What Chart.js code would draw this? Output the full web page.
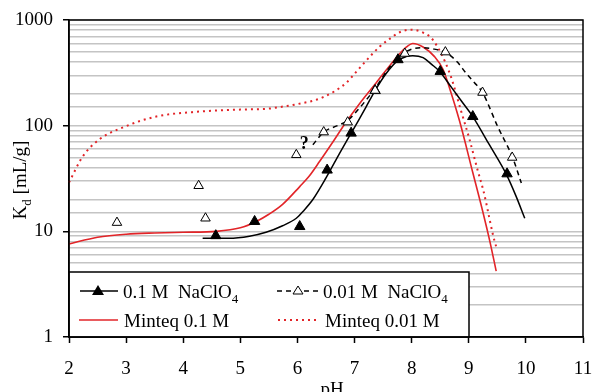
<!DOCTYPE html>
<html lang="en">
  <head>
    <meta charset="UTF-8" />
    <title>Kd vs pH</title>
    <script src="https://cdn.jsdelivr.net/npm/chart.js"></script>
    <style>
      body { margin: 0; background: #fff; }
      #wrap { width: 592px; height: 392px; }
    </style>
  </head>
  <body>
    <div id="wrap"><canvas id="myChart"></canvas></div>

    <script>
      // measured points, 0.1 M NaClO4 (filled triangles)
      const ph01 = [4.57, 5.25, 6.04, 6.52, 6.94, 7.36, 7.76, 8.50, 9.07, 9.67];
      const kd01 = [9.1, 12.4, 11.1, 38, 85, 215, 421, 326, 122, 35];

      // measured points, 0.01 M NaClO4 (open triangles)
      const ph001 = [2.84, 4.27, 4.39, 5.98, 6.46, 6.88, 7.36, 7.88, 8.59, 9.24, 9.76];
      const kd001 = [12.1, 27, 13.3, 53, 87, 108, 215, 482, 497, 206, 50];

      // fitted curves through the data
      const fitPh01 = [4.34, 4.8, 5.16, 5.45, 5.74, 5.98, 6.1, 6.27, 6.5, 6.74, 6.94, 7.06, 7.2, 7.36, 7.55, 7.76, 7.9, 8.02, 8.2, 8.35, 8.49, 8.7, 8.9, 9.07, 9.36, 9.66, 9.82, 9.98];
      const fitKd01 = [8.6, 8.6, 9.0, 9.8, 11.3, 13.3, 15.5, 20, 32, 55, 85, 110, 150, 215, 310, 415, 450, 460, 440, 380, 326, 229, 163, 122, 66, 34.4, 22, 13.3];

      const fitPh001 = [6.27, 6.46, 6.7, 6.88, 7.1, 7.36, 7.6, 7.8, 8.0, 8.2, 8.4, 8.61, 8.8, 8.95, 9.1, 9.24, 9.51, 9.77, 9.92];
      const fitKd001 = [66, 87, 100, 112, 150, 225, 350, 460, 530, 545, 530, 487, 400, 315, 255, 206, 97, 49.6, 28.6];

      // Minteq model curves
      const mintPh01 = [2, 2.5, 3, 3.5, 4, 4.58, 5, 5.28, 5.5, 5.74, 6.04, 6.2, 6.39, 6.62, 6.82, 7.1, 7.38, 7.73, 7.9, 8.02, 8.2, 8.4, 8.55, 8.66, 8.84, 9.07, 9.25, 9.37, 9.48];
      const mintKd01 = [7.6, 8.8, 9.4, 9.65, 9.8, 10.0, 10.8, 12.4, 14.5, 18, 26.5, 33, 46, 70, 102, 165, 255, 440, 550, 600, 555, 450, 340, 230, 110, 36, 15, 8, 4.2];

      const mintPh001 = [2, 2.24, 2.53, 3.0, 3.53, 4.29, 5.0, 5.5, 5.69, 6.0, 6.44, 6.85, 7.0, 7.2, 7.44, 7.61, 7.8, 7.99, 8.2, 8.37, 8.66, 8.87, 9.01, 9.16, 9.25, 9.48, 9.51];
      const mintKd001 = [29, 51, 74, 99, 122, 136, 142, 145, 150, 160, 185, 253, 310, 410, 560, 660, 770, 810, 760, 650, 320, 135, 75, 37, 25, 7.2, 6.8];

      const xTicks = [2, 3, 4, 5, 6, 7, 8, 9, 10, 11];
      const yMajor = [1, 10, 100, 1000];

      const RED = "rgb(226,36,40)";
      const FONT = "Liberation Serif";

      function pairs(xs, ys) {
        return xs.map((x, i) => ({ x: x, y: ys[i] }));
      }

      function isMajor(v) {
        return yMajor.indexOf(Math.round(v)) >= 0;
      }

      // draw text with a subscript part
      function subText(ctx, x, y, main, sub, rest, size) {
        ctx.font = size + "px " + FONT;
        ctx.fillText(main, x, y);
        let w = ctx.measureText(main).width;
        ctx.font = Math.round(size * 0.68) + "px " + FONT;
        ctx.fillText(sub, x + w, y + size * 0.28);
        w += ctx.measureText(sub).width;
        if (rest) {
          ctx.font = size + "px " + FONT;
          ctx.fillText(rest, x + w, y);
        }
      }

      const extras = {
        id: "extras",
        afterDatasetsDraw(chart) {
          const ctx = chart.ctx;
          const a = chart.chartArea;
          const xs = chart.scales.x;
          const ys = chart.scales.y;
          ctx.save();

          // question mark by the first points
          ctx.fillStyle = "#000";
          ctx.font = "bold 18px " + FONT;
          ctx.textAlign = "center";
          ctx.textBaseline = "middle";
          ctx.fillText("?", xs.getPixelForValue(6.12), ys.getPixelForValue(66));

          // legend box
          const lx = a.left, lr = 469, lt = 272, lb = a.bottom;
          ctx.fillStyle = "#fff";
          ctx.fillRect(lx, lt, lr - lx, lb - lt);
          ctx.strokeStyle = "#000";
          ctx.lineWidth = 1.5;
          ctx.strokeRect(lx, lt, lr - lx, lb - lt);

          const r1 = 291, r2 = 320;
          ctx.lineWidth = 1.5;
          // 0.1 M
          ctx.setLineDash([]);
          ctx.beginPath(); ctx.moveTo(80, r1); ctx.lineTo(118, r1); ctx.stroke();
          ctx.fillStyle = "#000";
          ctx.beginPath();
          ctx.moveTo(98, r1 - 6); ctx.lineTo(104, r1 + 4); ctx.lineTo(92, r1 + 4); ctx.closePath();
          ctx.fill();
          // 0.01 M
          ctx.setLineDash([5, 4]);
          ctx.beginPath(); ctx.moveTo(277, r1); ctx.lineTo(318, r1); ctx.stroke();
          ctx.setLineDash([]);
          ctx.lineWidth = 1;
          ctx.fillStyle = "#fff";
          ctx.beginPath();
          ctx.moveTo(298, r1 - 5); ctx.lineTo(303, r1 + 3); ctx.lineTo(293, r1 + 3); ctx.closePath();
          ctx.fill(); ctx.stroke();
          // Minteq
          ctx.strokeStyle = RED;
          ctx.lineWidth = 1.6;
          ctx.beginPath(); ctx.moveTo(79, r2); ctx.lineTo(118, r2); ctx.stroke();
          ctx.setLineDash([2, 4]);
          ctx.lineWidth = 2;
          ctx.beginPath(); ctx.moveTo(278, r2); ctx.lineTo(318, r2); ctx.stroke();
          ctx.setLineDash([]);

          ctx.fillStyle = "#000";
          ctx.textAlign = "left";
          ctx.textBaseline = "alphabetic";
          subText(ctx, 123, r1 + 7, "0.1 M  NaClO", "4", "", 19);
          subText(ctx, 323, r1 + 7, "0.01 M  NaClO", "4", "", 19);
          ctx.font = "19px " + FONT;
          ctx.fillText("Minteq 0.1 M", 124, r2 + 7);
          ctx.fillText("Minteq 0.01 M", 325, r2 + 7);

          // frame round the plot
          ctx.strokeStyle = "#000";
          ctx.lineWidth = 1.5;
          ctx.strokeRect(a.left, a.top, a.right - a.left, a.bottom - a.top);

          // axis titles
          ctx.font = "19px " + FONT;
          ctx.textAlign = "center";
          ctx.fillText("pH", 332, 395);

          ctx.translate(26, 180);
          ctx.rotate(-Math.PI / 2);
          ctx.textAlign = "left";
          ctx.font = "19px " + FONT;
          const wK = ctx.measureText("K").width;
          const wR = ctx.measureText(" [mL/g]").width;
          ctx.font = "13px " + FONT;
          const wd = ctx.measureText("d").width;
          subText(ctx, -(wK + wd + wR) / 2, 0, "K", "d", " [mL/g]", 19);
          ctx.restore();
        }
      };

      const data = {
        datasets: [
          {
            label: "0.1 M NaClO4",
            type: "scatter",
            data: pairs(ph01, kd01),
            pointStyle: "triangle",
            pointRadius: 6,
            backgroundColor: "#000",
            borderColor: "#000",
            order: 1
          },
          {
            label: "0.01 M NaClO4",
            type: "scatter",
            data: pairs(ph001, kd001),
            pointStyle: "triangle",
            pointRadius: 5.5,
            borderWidth: 1,
            backgroundColor: "#fff",
            borderColor: "#000",
            order: 0
          },
          {
            label: "fit 0.1 M",
            data: pairs(fitPh01, fitKd01),
            borderColor: "#000",
            borderWidth: 1.5,
            pointRadius: 0,
            cubicInterpolationMode: "monotone",
            order: 3
          },
          {
            label: "fit 0.01 M",
            data: pairs(fitPh001, fitKd001),
            borderColor: "#000",
            borderWidth: 1.5,
            borderDash: [5, 4],
            pointRadius: 0,
            cubicInterpolationMode: "monotone",
            order: 3
          },
          {
            label: "Minteq 0.1 M",
            data: pairs(mintPh01, mintKd01),
            borderColor: RED,
            borderWidth: 1.6,
            pointRadius: 0,
            cubicInterpolationMode: "monotone",
            order: 4
          },
          {
            label: "Minteq 0.01 M",
            data: pairs(mintPh001, mintKd001),
            borderColor: RED,
            borderWidth: 2,
            borderDash: [2, 4],
            pointRadius: 0,
            cubicInterpolationMode: "monotone",
            order: 4
          }
        ]
      };

      const config = {
        type: "line",
        data: data,
        options: {
          responsive: true,
          maintainAspectRatio: false,
          animation: false,
          clip: false,
          layout: { padding: { top: 20, right: 9, left: 0, bottom: 0 } },
          plugins: { legend: { display: false }, tooltip: { enabled: false } },
          scales: {
            x: {
              type: "linear",
              min: 2,
              max: 11,
              afterBuildTicks: (scale) => {
                scale.ticks = xTicks.map((v) => ({ value: v }));
              },
              afterFit: (scale) => {
                scale.height = 55;
                scale.paddingLeft = 0;
                scale.paddingRight = 0;
              },
              ticks: {
                color: "#000",
                font: { family: FONT, size: 19 },
                padding: 15
              },
              grid: {
                drawOnChartArea: false,
                tickLength: 6,
                tickColor: "#000",
                tickWidth: 1.5
              },
              border: { color: "#000", width: 1.5 }
            },
            y: {
              type: "logarithmic",
              min: 1,
              max: 1000,
              afterFit: (scale) => {
                scale.width = 69;
                scale.paddingTop = 0;
                scale.paddingBottom = 0;
              },
              ticks: {
                autoSkip: false,
                color: "#000",
                font: { family: FONT, size: 19 },
                padding: 10,
                callback: (v) => (isMajor(v) ? String(v) : "")
              },
              grid: {
                color: "#c4c4c4",
                lineWidth: 1.5,
                tickLength: 6,
                tickWidth: 1.5,
                tickColor: (c) => (c.tick && isMajor(c.tick.value) ? "#000" : "rgba(0,0,0,0)")
              },
              border: { color: "#000", width: 1.5 }
            }
          }
        },
        plugins: [extras]
      };

      const myChart = new Chart(document.getElementById("myChart"), config);
    </script>
  </body>
</html>
